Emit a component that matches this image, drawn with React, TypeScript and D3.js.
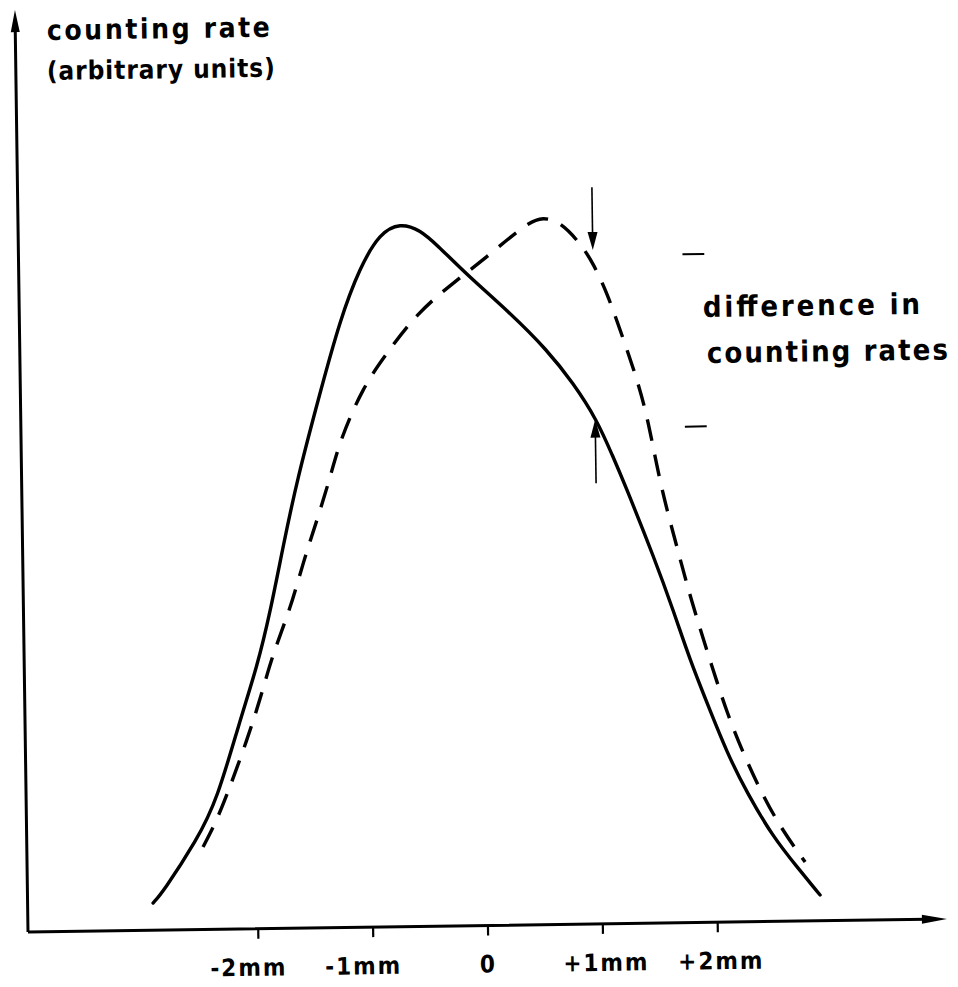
//@ts-nocheck
import * as d3 from "d3";
import { useRef, useEffect } from "react";

// displacement (mm) ticks
const tickValues = [-2, -1, 0, 1, 2];
const tickLabels = ["-2mm", "-1mm", "0", "+1mm", "+2mm"];

// solid curve: displacement (mm) vs counting rate (arbitrary units)
const solidX = [-2.908, -2.82, -2.518, -2.338, -2.128, -1.974, -1.854, -1.733, -1.603, -1.392, -1.209, -1.028, -0.85, -0.674, -0.501, -0.355, -0.097, 0.272, 0.59, 0.812, 1.016, 1.151, 1.235, 1.504, 1.655, 1.796, 1.939, 2.107, 2.276, 2.497, 2.702, 2.899];
const solidY = [2.95, 4.13, 9.72, 14.03, 22.67, 28.39, 34.23, 41.37, 48.61, 58.01, 65.9, 71.62, 75.27, 76.33, 75.54, 73.88, 70.58, 66.4, 62.33, 58.71, 54.66, 50.62, 48.11, 39.38, 33.93, 28.48, 23.8, 18.34, 13.97, 9.16, 5.87, 2.8];

// dashed curve
const dashedX = [-2.466, -2.341, -2.224, -2.07, -1.952, -1.833, -1.68, -1.561, -1.433, -1.315, -1.223, -1.017, -0.804, -0.537, -0.22, 0.079, 0.431, 0.571, 0.719, 0.89, 1.001, 1.119, 1.228, 1.336, 1.452, 1.557, 1.697, 1.804, 1.995, 2.112, 2.246, 2.39, 2.559, 2.773];
const dashedY = [8.95, 11.86, 15.42, 20.49, 24.81, 29.88, 34.52, 39.6, 44.24, 48.78, 52.88, 58.6, 62.25, 66.54, 69.74, 72.51, 76.13, 76.76, 76.19, 73.88, 71.69, 68.42, 64.38, 60.35, 55.34, 47.51, 40.76, 35.32, 27.37, 22.68, 18.32, 14.28, 10.23, 6.4];

// difference annotation at +1 mm
const diffAt = 1.0;
const arrowDown = [79.9, 73.1]; // from, tip
const arrowUp = [47.8, 54.7]; // from, tip
const diffLevels = [72.5, 53.8];
const diffMarkX = [1.78, 1.97];

const yTitle = "counting rate";
const yUnits = "(arbitrary units)";
const diffLabel = ["difference in", "counting rates"];

const font = "'DejaVu Sans Condensed', 'Liberation Sans Narrow', 'DejaVu Sans', sans-serif";

export default function App({
  width = 958,
  height = 987,
  marginTop = 10,
  marginRight = 11,
  marginBottom = 55,
  marginLeft = 28,
}) {
  const x = d3.scaleLinear([-4, 4], [marginLeft, width - marginRight]);
  const y = d3.scaleLinear([0, 100], [height - marginBottom, marginTop]);
  const line = d3
    .line()
    .x((d) => x(d[0]))
    .y((d) => y(d[1]))
    .curve(d3.curveBasis);

  const solid = solidX.map((v, i) => [v, solidY[i]]);
  const dashed = dashedX.map((v, i) => [v, dashedY[i]]);

  const gx = useRef();

  useEffect(() => {
    const g = d3.select(gx.current);
    g.call(
      d3
        .axisBottom(x)
        .tickValues(tickValues)
        .tickSize(10)
        .tickFormat((d, i) => tickLabels[i]),
    );
    g.select(".domain").remove();
    g.attr("font-family", font).attr("font-size", 24).attr("font-weight", "bold");
    g.selectAll(".tick line").attr("stroke", "#000").attr("stroke-width", 2.2);
    g.selectAll(".tick text")
      .attr("fill", "#000")
      .attr("y", 47)
      .attr("dy", 0)
      .attr("dx", (d) => (d < 0 ? -10 : d > 0 ? 3 : 0))
      .attr("letter-spacing", 2);
  }, []);

  const x0 = x(-4);
  const y0 = y(0);
  const xEnd = x(4);
  const yEnd = y.range()[1];
  const dx = x(diffAt);

  return (
    <svg
      width={width}
      height={height}
      style={{ position: "absolute", left: 0, top: 0, background: "#fff" }}
    >
      <g transform={`rotate(-0.81, ${x0}, ${y0})`}>
        {/* axes */}
        <path
          d={`M${x0},${y0}H${xEnd - 20}M${x0},${y0}V${yEnd + 18}`}
          stroke="#000"
          strokeWidth={3}
          fill="none"
        />
        <path
          d={`M${xEnd},${y0}L${xEnd - 25},${y0 - 4.5}L${xEnd - 25},${y0 + 4.5}Z`}
          fill="#000"
        />
        <path
          d={`M${x0},${yEnd}L${x0 - 4.5},${yEnd + 22}L${x0 + 4.5},${yEnd + 22}Z`}
          fill="#000"
        />
        <g ref={gx} transform={`translate(0,${y0})`} />

        {/* curves */}
        <path
          d={line(solid)}
          fill="none"
          stroke="#000"
          strokeWidth={3.4}
          strokeLinecap="round"
          strokeLinejoin="round"
        />
        <path
          d={line(dashed)}
          fill="none"
          stroke="#000"
          strokeWidth={3.4}
          strokeDasharray="22 14"
        />

        {/* difference arrows */}
        <g stroke="#000" strokeWidth={1.6}>
          <line x1={dx} x2={dx} y1={y(arrowDown[0])} y2={y(arrowDown[1]) - 10} />
          <line x1={dx} x2={dx} y1={y(arrowUp[0])} y2={y(arrowUp[1]) + 10} />
          {diffLevels.map((v, i) => (
            <line
              key={i}
              x1={x(diffMarkX[0])}
              x2={x(diffMarkX[1])}
              y1={y(v)}
              y2={y(v)}
              strokeWidth={2}
            />
          ))}
        </g>
        <path
          d={`M${dx},${y(arrowDown[1])}L${dx - 5},${y(arrowDown[1]) - 18}L${dx + 5},${y(arrowDown[1]) - 18}Z`}
          fill="#000"
        />
        <path
          d={`M${dx},${y(arrowUp[1])}L${dx - 5},${y(arrowUp[1]) + 18}L${dx + 5},${y(arrowUp[1]) + 18}Z`}
          fill="#000"
        />

        {/* labels */}
        <g fontFamily={font} fontWeight="bold" fontSize={28} fill="#000">
          <text x={59.6} y={40.3} textLength={223} lengthAdjust="spacing">
            {yTitle}
          </text>
          <text x={59} y={80.3} fontSize={26} textLength={228} lengthAdjust="spacing">
            {yUnits}
          </text>
          <text x={711.7} y={326.6} fontSize={29} textLength={217} lengthAdjust="spacing">
            {diffLabel[0]}
          </text>
          <text x={715} y={372.6} fontSize={29} textLength={241} lengthAdjust="spacing">
            {diffLabel[1]}
          </text>
        </g>
      </g>
    </svg>
  );
}
